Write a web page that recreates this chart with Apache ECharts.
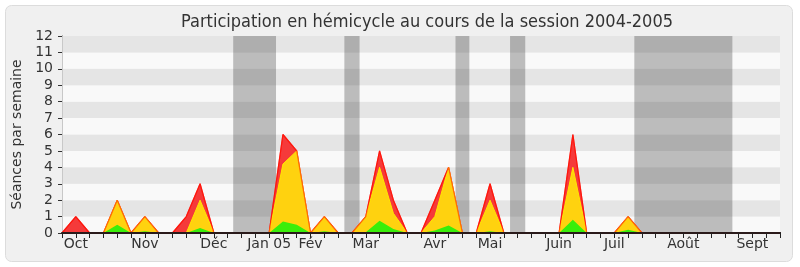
<!DOCTYPE html>
<html>
<head>
<meta charset="utf-8">
<script src="https://cdn.jsdelivr.net/npm/echarts@6/dist/echarts.min.js"></script>
<style>
html,body{margin:0;padding:0;background:#fff;}
#c{width:800px;height:267px;}
</style>
</head>
<body>
<div id="c"></div>
<script>
// Week index 0..52 (session 2004-2005)
var weeks = [];
for (var k = 0; k <= 52; k++) weeks.push(k);

// Month tick labels: week index -> label
var monthWeeks  = [1, 6, 11, 15, 18, 22, 27, 31, 36, 40, 45, 50];
var monthLabels = ['Oct', 'Nov', 'Déc', 'Jan 05', 'Fév', 'Mar', 'Avr', 'Mai', 'Juin', 'Juil', 'Août', 'Sept'];

// Séances (red), présences (yellow), interventions (green) per week
var seances = [0,1,0,0,2,0,1,0,0,1,3,0,0,0,0,0,6,5,0,1,0,0,1,5,2,0,0,2,4,0,0,3,0,0,0,0,0,6,0,0,0,1,0,0,0,0,0,0,0,0,0,0,0];
var presences = [0,0,0,0,2,0,1,0,0,0,2,0,0,0,0,0,4.2,5,0,1,0,0,1,4,1.2,0,0,1,4,0,0,2,0,0,0,0,0,4,0,0,0,1,0,0,0,0,0,0,0,0,0,0,0];
var interventions = [0,0,0,0,0.5,0,0.1,0,0,0,0.3,0,0,0,0,0,0.7,0.5,0,0.1,0,0,0.05,0.75,0.25,0,0,0.15,0.45,0,0,0.1,0,0,0,0,0,0.8,0,0,0,0.2,0,0,0,0,0,0,0,0,0,0,0];

// Vacation periods (week positions)
var vacations = [[12.4, 15.5], [20.45, 21.55], [28.5, 29.5], [32.45, 33.55], [41.45, 48.55]];

function pairs(arr) { return weeks.map(function (w, i) { return [w, arr[i]]; }); }

var labelMap = {};
monthWeeks.forEach(function (w, i) { labelMap[w] = monthLabels[i]; });

var FONT = 'DejaVu Sans';
var chart = echarts.init(document.getElementById('c'), null, {renderer: 'canvas'});
chart.setOption({
  animation: false,
  textStyle: {fontFamily: FONT},
  graphic: [{
    type: 'rect', z: -10,
    shape: {x: 5.5, y: 5.5, width: 787, height: 256, r: 6},
    style: {fill: '#f0f0f0', stroke: '#dcdcdc', lineWidth: 1}
  }],
  title: {
    text: 'Participation en hémicycle au cours de la session 2004-2005',
    left: 422, top: 8, textAlign: 'center',
    textStyle: {fontFamily: 'DejaVu Sans Condensed', fontSize: 18, fontWeight: 'normal', color: '#333'}
  },
  grid: {left: 62, right: 20, top: 36, bottom: 34, containLabel: false},
  xAxis: [{
    type: 'value', min: 0, max: 52, interval: 1, z: 10,
    axisLine: {show: true, onZero: false, lineStyle: {color: '#2a1a1a', width: 2}},
    axisTick: {show: true, length: 5, lineStyle: {color: '#222'}},
    splitLine: {show: false},
    axisLabel: {
      fontFamily: FONT, fontSize: 14, color: '#333', margin: 4,
      formatter: function (v) { return labelMap[v] || ''; }
    }
  }, {
    type: 'value', position: 'top', min: 0, max: 63, interval: 1,
    axisLine: {show: false},
    axisTick: {show: true, length: 1, lineStyle: {color: '#444'}},
    axisLabel: {show: false}, splitLine: {show: false}
  }],
  yAxis: [{
    type: 'value', min: 0, max: 12, interval: 1,
    name: 'Séances par semaine', nameLocation: 'middle', nameGap: 37, nameRotate: 90,
    nameTextStyle: {fontFamily: FONT, fontSize: 14, color: '#333'},
    axisLine: {show: true, lineStyle: {color: '#333'}},
    axisTick: {show: true, length: 4, lineStyle: {color: '#333'}},
    axisLabel: {fontFamily: FONT, fontSize: 14, color: '#333', margin: 9},
    splitLine: {show: false},
    splitArea: {show: true, areaStyle: {color: ['#f9f9f9', '#e5e5e5']}}
  }, {
    type: 'value', position: 'right', min: 0, max: 12,
    axisLine: {show: true, lineStyle: {color: '#c8c8c8'}},
    axisTick: {show: false}, axisLabel: {show: false}, splitLine: {show: false}
  }],
  series: [{
    type: 'line', data: [], z: 1, silent: true,
    markArea: {
      silent: true,
      itemStyle: {color: 'rgba(46,46,46,0.3)'},
      data: vacations.map(function (v) { return [{xAxis: v[0]}, {xAxis: v[1]}]; })
    }
  }, {
    name: 'Séances', type: 'line', z: 3, data: pairs(seances),
    showSymbol: false, symbol: 'none',
    lineStyle: {color: '#ff1a1a', width: 1.2},
    areaStyle: {color: '#f53a3a', opacity: 1}
  }, {
    name: 'Présences', type: 'line', z: 4, data: pairs(presences),
    showSymbol: false, symbol: 'none',
    lineStyle: {color: '#ffe600', width: 1},
    areaStyle: {color: '#ffd20f', opacity: 1}
  }, {
    name: 'Séances contour', type: 'line', z: 5, data: pairs(seances),
    showSymbol: false, symbol: 'none', silent: true,
    lineStyle: {color: 'rgba(255,20,0,0.55)', width: 1.2}
  }, {
    name: 'Interventions', type: 'line', z: 6, data: pairs(interventions),
    showSymbol: false, symbol: 'none',
    lineStyle: {width: 0},
    areaStyle: {color: '#3aee0a', opacity: 1}
  }]
});
</script>
</body>
</html>
